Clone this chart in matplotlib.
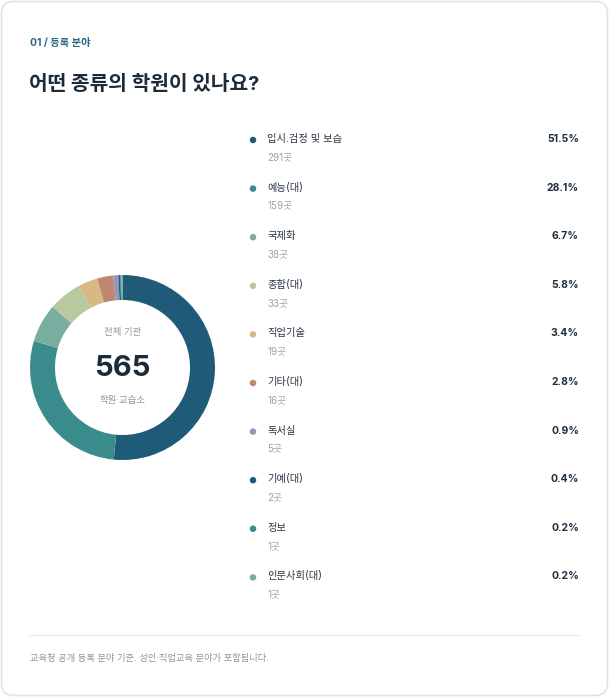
import matplotlib.pyplot as plt
from matplotlib.patches import FancyBboxPatch

plt.rcParams['font.family'] = ['Inter', 'Noto Sans CJK KR', 'DejaVu Sans']

categories = ['입시.검정 및 보습', '예능(대)', '국제화', '종합(대)', '직업기술',
              '기타(대)', '독서실', '기예(대)', '정보', '인문사회(대)']
counts = [291, 159, 38, 33, 19, 16, 5, 2, 1, 1]
colors = ['#1f5b78', '#3a8c8c', '#78ae9f', '#b7c99f', '#d8b985',
          '#bf876d', '#8c9aba', '#1f5b78', '#3a8c8c', '#78ae9f']
total = sum(counts)

W, H = 609, 697
fig = plt.figure(figsize=(W / 100, H / 100), dpi=100)
fig.patch.set_facecolor('white')

# page-level axes in pixel coords
bg = fig.add_axes([0, 0, 1, 1])
bg.set_xlim(0, W)
bg.set_ylim(H, 0)
bg.axis('off')

card = FancyBboxPatch((1.5, 1.5), W - 3, H - 3, boxstyle='round,pad=0,rounding_size=12',
                      facecolor='white', edgecolor='#dde5ec', linewidth=1.2)
bg.add_patch(card)

bg.text(30, 43, '01 / 등록 분야', fontsize=7.4, fontweight='bold', color='#2b6a82',
        va='center', ha='left')
bg.text(29, 84, '어떤 종류의 학원이 있나요?', fontsize=14.6, fontweight='bold',
        color='#1c2b3a', va='center', ha='left')

# legend rows
row0, step = 139, 48.6
for i, (cat, n, c) in enumerate(zip(categories, counts, colors)):
    y = row0 + i * step
    bg.scatter([253], [y + 1], s=22, marker='o', color=c, edgecolors='none')
    bg.text(267, y, cat, fontsize=7.4, color='#2a3644', va='center', ha='left')
    bg.text(267, y + 18, f'{n}곳', fontsize=7, color='#98a3ae', va='center', ha='left')
    bg.text(579, y, f'{n / total * 100:.1f}%', fontsize=7.5, fontweight='bold',
            color='#1f2d3d', va='center', ha='right')

bg.plot([30, 579], [635, 635], color='#e6ebef', linewidth=0.9)
bg.text(30, 658, '교육청 공개 등록 분야 기준. 성인·직업교육 분야가 포함됩니다.',
        fontsize=6.7, color='#8a96a3', va='center', ha='left')

# donut
cx, cy, r = 122.5, 367.5, 92.5
ax = fig.add_axes([(cx - r) / W, (H - cy - r) / H, 2 * r / W, 2 * r / H])
ax.pie(counts, colors=colors, startangle=90, counterclock=False, radius=1,
       wedgeprops=dict(width=0.27, linewidth=0))
ax.set_xlim(-1, 1)
ax.set_ylim(-1, 1)
ax.set_aspect('equal')
ax.axis('off')

bg.text(cx, 333, '전체 기관', fontsize=6.8, color='#8a96a3', va='center', ha='center')
bg.text(cx, 368, str(total), fontsize=21, fontweight='bold', color='#1c2b3a',
        va='center', ha='center')
bg.text(cx, 401, '학원·교습소', fontsize=6.8, color='#8a96a3', va='center', ha='center')

fig.savefig('out.png', dpi=100, facecolor='white')
